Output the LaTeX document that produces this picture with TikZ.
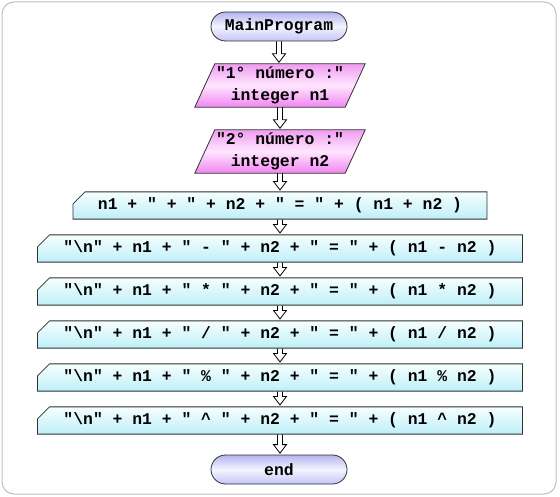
\documentclass[tikz,border=0pt]{standalone}
\usepackage{fontspec}
\setmonofont{Liberation Mono}
\usetikzlibrary{shapes.misc,calc,backgrounds}
\definecolor{termtop}{HTML}{B4B4F0}
\definecolor{termmid}{HTML}{F4F4FF}
\definecolor{termbot}{HTML}{C4C4F8}
\definecolor{intop}{HTML}{F09CF0}
\definecolor{inmid}{HTML}{FFE6FF}
\definecolor{inbot}{HTML}{F084F0}
\definecolor{prtop}{HTML}{F6FFFF}
\definecolor{prbot}{HTML}{BEEFF8}
\definecolor{edge}{HTML}{303030}
\definecolor{frame}{HTML}{C0C0C0}
\tikzset{
  txt/.style={font=\ttfamily\bfseries\fontsize{16.4}{22}\selectfont, text=black},
  term/.style={txt, rounded rectangle, draw=edge, line width=0.8pt,
    minimum width=136pt, minimum height=29pt, inner sep=0pt,
    top color=termtop, bottom color=termbot, middle color=termmid},
  inbox/.style={txt, rectangle, align=center, minimum width=150pt,
    minimum height=43pt, inner sep=0pt},
  inshape/.style={draw=edge, line width=0.8pt, top color=intop,
    bottom color=inbot, middle color=inmid},
  procbox/.style={txt, chamfered rectangle, chamfered rectangle corners=north west,
    chamfered rectangle xsep=6pt, chamfered rectangle ysep=6pt,
    draw=edge, line width=0.8pt, minimum height=19pt, inner sep=0pt,
    top color=prtop, bottom color=prbot},
  hollow/.style={draw=black, line width=0.8pt, line join=miter,
    to path={let \p1=(\tikztostart), \p2=(\tikztotarget) in
      (\x1-2.5pt,\y1) -- (\x1-2.5pt,\y2+10pt) -- (\x1-6.5pt,\y2+10pt)
      -- (\x1,\y2+1.5pt) -- (\x1+6.5pt,\y2+10pt) -- (\x1+2.5pt,\y2+10pt)
      -- (\x1+2.5pt,\y1)}}
}
\begin{document}
\begin{tikzpicture}[x=1pt,y=-1pt]
\useasboundingbox (0,0) rectangle (560,497);
\draw[frame, line width=1pt, rounded corners=12pt] (2,2) rectangle (556,494);

\node[term] (start) at (279,26.5) {MainProgram};
\node[inbox] (in1) at (280,85.5) {"1° número :"\\integer n1};
\node[inbox] (in2) at (280,151.5) {"2° número :"\\integer n2};
\node[procbox, minimum width=414pt] (p1) at (280,205.5)
  {n1 + " + " + n2 + " = " + ( n1 + n2 )};
\node[procbox, minimum width=485pt] (p2) at (280,248.5)
  {"\textbackslash n" + n1 + " - " + n2 + " = " + ( n1 - n2 )};
\node[procbox, minimum width=485pt] (p3) at (280,291.5)
  {"\textbackslash n" + n1 + " * " + n2 + " = " + ( n1 * n2 )};
\node[procbox, minimum width=485pt] (p4) at (280,334.5)
  {"\textbackslash n" + n1 + " / " + n2 + " = " + ( n1 / n2 )};
\node[procbox, minimum width=485pt] (p5) at (280,377.5)
  {"\textbackslash n" + n1 + " \% " + n2 + " = " + ( n1 \% n2 )};
\node[procbox, minimum width=485pt] (p6) at (280,420.5)
  {"\textbackslash n" + n1 + " \textasciicircum{} " + n2 + " = " + ( n1 \textasciicircum{} n2 )};
\node[term] (stop) at (279,469.5) {end};

\begin{scope}[on background layer]
\foreach \n in {in1,in2}{
  \path[inshape] ([xshift=10pt]\n.north west) -- ([xshift=10pt]\n.north east)
    -- ([xshift=-10pt]\n.south east) -- ([xshift=-10pt]\n.south west) -- cycle;
}
\end{scope}

\draw[hollow] (start.south) to (in1.north);
\draw[hollow] (in1.south) to (in2.north);
\draw[hollow] (in2.south) to (p1.north);
\draw[hollow] (p1.south) to (p2.north);
\draw[hollow] (p2.south) to (p3.north);
\draw[hollow] (p3.south) to (p4.north);
\draw[hollow] (p4.south) to (p5.north);
\draw[hollow] (p5.south) to (p6.north);
\draw[hollow] (p6.south) to (stop.north);
\end{tikzpicture}
\end{document}
